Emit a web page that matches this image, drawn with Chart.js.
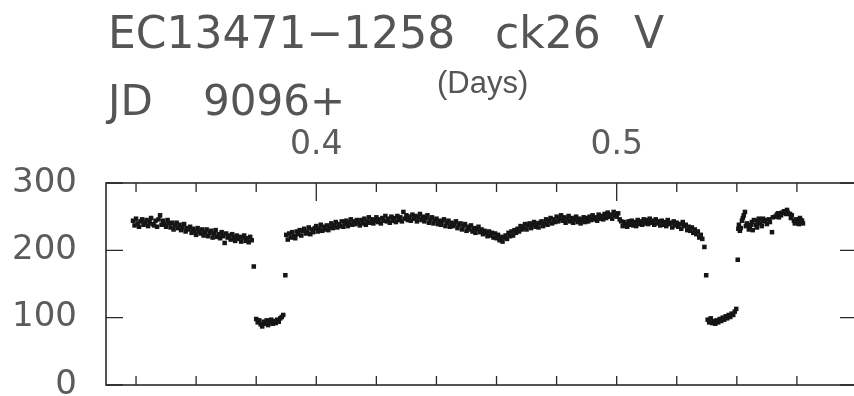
<!DOCTYPE html>
<html>
<head>
<meta charset="utf-8">
<title>EC13471-1258 ck26 V</title>
<script src="https://cdn.jsdelivr.net/npm/chart.js@4.4.1/dist/chart.umd.min.js"></script>
<style>
    body { margin: 0; background: #fff; overflow: hidden; }
    #quadro { position: relative; width: 870px; height: 396px; }
    #graficoCurva { position: absolute; left: 0; top: 0; }
    .texto { position: absolute; line-height: 1; white-space: pre; color: #555; font-family: "DejaVu Sans", sans-serif; }
</style>
</head>
<body>
<div id="quadro">
    <canvas id="graficoCurva" width="870" height="396"></canvas>
    <span class="texto" style="left:108px; top:11px; font-size:44px;">EC13471−1258</span>
    <span class="texto" style="left:495px; top:11px; font-size:44px;">ck26</span>
    <span class="texto" style="left:634px; top:11px; font-size:44px;">V</span>
    <span class="texto" style="left:108px; top:80px; font-size:42px;">JD</span>
    <span class="texto" style="left:203px; top:80px; font-size:42px;">9096+</span>
    <span class="texto" style="left:437px; top:67px; font-size:31px; font-family:'Liberation Sans', sans-serif;">(Days)</span>
</div>
<script>
// tempo (dias depois de JD 9096) e contagens, por trecho da curva
const daysA = [
    0.3390, 0.3395, 0.3400, 0.3405, 0.3410, 0.3415, 0.3420, 0.3425, 0.3430, 0.3435,
    0.3440, 0.3445, 0.3450, 0.3455, 0.3460, 0.3465, 0.3470, 0.3475, 0.3480, 0.3485,
    0.3490, 0.3495, 0.3500, 0.3505, 0.3510, 0.3515, 0.3520, 0.3525, 0.3530, 0.3535,
    0.3540, 0.3545, 0.3550, 0.3555, 0.3560, 0.3565, 0.3570, 0.3575, 0.3580, 0.3585,
    0.3590, 0.3595, 0.3600, 0.3605, 0.3610, 0.3615, 0.3620, 0.3625, 0.3630, 0.3635,
    0.3640, 0.3645, 0.3650, 0.3655, 0.3660, 0.3665, 0.3670, 0.3675, 0.3680, 0.3685,
    0.3690, 0.3695, 0.3700, 0.3705, 0.3710, 0.3715, 0.3720, 0.3725, 0.3730, 0.3735,
    0.3740, 0.3745, 0.3750, 0.3755, 0.3760, 0.3765, 0.3770, 0.3775, 0.3780, 0.3785
];
const countsA = [
    244, 237, 247, 240, 235, 243, 246, 238, 241, 245,
    236, 242, 248, 239, 237, 244, 235, 246, 252, 238,
    244, 239, 235, 245, 240, 234, 241, 231, 237, 241,
    233, 238, 230, 234, 239, 228, 233, 231, 235, 226,
    232, 229, 223, 233, 228, 225, 231, 222, 227, 231,
    221, 226, 229, 219, 225, 230, 220, 224, 218, 227,
    221, 211, 225, 219, 222, 216, 224, 219, 214, 222,
    217, 220, 213, 219, 222, 214, 218, 212, 220, 215
];

// primeiro eclipse (entrada, fundo, saida)
const daysB = [
    0.3792,
    0.3800, 0.3805, 0.3810, 0.3815, 0.3820, 0.3825, 0.3830, 0.3835, 0.3840, 0.3845,
    0.3850, 0.3855, 0.3860, 0.3865, 0.3870, 0.3875, 0.3880, 0.3885, 0.3890,
    0.3897
];
const countsB = [
    176,
    98, 93, 96, 90, 87, 94, 91, 96, 89, 93,
    97, 91, 95, 92, 97, 94, 99, 101, 104,
    163
];

const daysC = [
    0.3900, 0.3905, 0.3910, 0.3915, 0.3920, 0.3925, 0.3930, 0.3935, 0.3940, 0.3945,
    0.3950, 0.3955, 0.3960, 0.3965, 0.3970, 0.3975, 0.3980, 0.3985, 0.3990, 0.3995,
    0.4000, 0.4005, 0.4010, 0.4015, 0.4020, 0.4025, 0.4030, 0.4035, 0.4040, 0.4045,
    0.4050, 0.4055, 0.4060, 0.4065, 0.4070, 0.4075, 0.4080, 0.4085, 0.4090, 0.4095,
    0.4100, 0.4105, 0.4110, 0.4115, 0.4120, 0.4125, 0.4130, 0.4135, 0.4140, 0.4145,
    0.4150, 0.4155, 0.4160, 0.4165, 0.4170, 0.4175, 0.4180, 0.4185, 0.4190, 0.4195,
    0.4200, 0.4205, 0.4210, 0.4215, 0.4220, 0.4225, 0.4230, 0.4235, 0.4240, 0.4245,
    0.4250, 0.4255, 0.4260, 0.4265, 0.4270, 0.4275, 0.4280, 0.4285, 0.4290, 0.4295,
    0.4300, 0.4305, 0.4310, 0.4315, 0.4320, 0.4325, 0.4330, 0.4335, 0.4340, 0.4345,
    0.4350, 0.4355, 0.4360, 0.4365, 0.4370, 0.4375, 0.4380, 0.4385, 0.4390, 0.4395,
    0.4400, 0.4405, 0.4410, 0.4415, 0.4420, 0.4425, 0.4430, 0.4435, 0.4440, 0.4445,
    0.4450, 0.4455, 0.4460, 0.4465, 0.4470, 0.4475, 0.4480, 0.4485, 0.4490, 0.4495,
    0.4500, 0.4505, 0.4510, 0.4515, 0.4520, 0.4525, 0.4530, 0.4535, 0.4540, 0.4545,
    0.4550, 0.4555, 0.4560, 0.4565, 0.4570, 0.4575, 0.4580, 0.4585, 0.4590, 0.4595,
    0.4600, 0.4605, 0.4610, 0.4615, 0.4620, 0.4625, 0.4630, 0.4635, 0.4640, 0.4645,
    0.4650, 0.4655, 0.4660, 0.4665, 0.4670, 0.4675, 0.4680, 0.4685, 0.4690, 0.4695,
    0.4700, 0.4705, 0.4710, 0.4715, 0.4720, 0.4725, 0.4730, 0.4735, 0.4740, 0.4745,
    0.4750, 0.4755, 0.4760, 0.4765, 0.4770, 0.4775, 0.4780, 0.4785, 0.4790, 0.4795,
    0.4800, 0.4805, 0.4810, 0.4815, 0.4820, 0.4825, 0.4830, 0.4835, 0.4840, 0.4845,
    0.4850, 0.4855, 0.4860, 0.4865, 0.4870, 0.4875, 0.4880, 0.4885, 0.4890, 0.4895,
    0.4900, 0.4905, 0.4910, 0.4915, 0.4920, 0.4925, 0.4930, 0.4935, 0.4940, 0.4945,
    0.4950, 0.4955, 0.4960, 0.4965, 0.4970, 0.4975, 0.4980, 0.4985, 0.4990, 0.4995,
    0.5000, 0.5005, 0.5010, 0.5015, 0.5020, 0.5025, 0.5030, 0.5035, 0.5040, 0.5045,
    0.5050, 0.5055, 0.5060, 0.5065, 0.5070, 0.5075, 0.5080, 0.5085, 0.5090, 0.5095,
    0.5100, 0.5105, 0.5110, 0.5115, 0.5120, 0.5125, 0.5130, 0.5135, 0.5140, 0.5145,
    0.5150, 0.5155, 0.5160, 0.5165, 0.5170, 0.5175, 0.5180, 0.5185, 0.5190, 0.5195,
    0.5200, 0.5205, 0.5210, 0.5215, 0.5220, 0.5225, 0.5230, 0.5235, 0.5240, 0.5245,
    0.5250, 0.5255, 0.5260, 0.5265, 0.5270, 0.5275, 0.5280, 0.5285
];
const countsC = [
    223, 216, 225, 219, 227, 221, 218, 228, 224, 230,
    222, 229, 232, 225, 228, 234, 224, 231, 227, 233,
    236, 228, 232, 238, 229, 235, 231, 237, 230, 234,
    240, 233, 237, 242, 234, 239, 236, 243, 235, 240,
    244, 236, 241, 246, 238, 243, 239, 245, 241, 237,
    245, 240, 247, 238, 243, 249, 241, 246, 240, 244,
    249, 242, 246, 240, 248, 244, 251, 243, 247, 241,
    250, 244, 248, 242, 251, 245, 249, 243, 257, 247,
    252, 245, 250, 244, 253, 247, 251, 243, 249, 254,
    245, 250, 243, 248, 252, 241, 246, 249, 240, 245,
    247, 239, 244, 238, 243, 246, 236, 241, 244, 235,
    241, 236, 239, 243, 233, 238, 240, 231, 236, 239,
    229, 235, 231, 237, 228, 233, 226, 232, 235, 227,
    231, 224, 229, 226, 221, 228, 222, 226, 219, 225,
    218, 223, 215, 220, 213, 219, 222, 217, 226, 221,
    228, 222, 230, 226, 232, 228, 236, 231, 234, 239,
    231, 237, 240, 233, 238, 242, 235, 240, 234, 241,
    243, 236, 240, 246, 238, 244, 248, 240, 246, 242,
    250, 243, 247, 252, 244, 249, 241, 247, 251, 243,
    248, 241, 246, 250, 242, 247, 240, 245, 249, 242,
    248, 243, 250, 245, 252, 246, 249, 244, 253, 247,
    251, 246, 254, 248, 256, 250, 253, 247, 257, 252,
    250, 255, 246, 243, 236, 242, 239, 235, 243, 238,
    244, 237, 242, 236, 245, 239, 243, 238, 246, 240,
    245, 239, 247, 241, 244, 238, 246, 240, 243, 237,
    244, 238, 242, 236, 245, 239, 241, 234, 243, 237,
    241, 235, 239, 232, 242, 236, 238, 230, 235, 229,
    234, 226, 231, 224, 228, 219, 223, 217
];

// segundo eclipse
const daysD = [
    0.5292, 0.5298,
    0.5303, 0.5308, 0.5313, 0.5318, 0.5323, 0.5328, 0.5333, 0.5338, 0.5343, 0.5348,
    0.5353, 0.5358, 0.5363, 0.5368, 0.5373, 0.5378, 0.5383, 0.5388, 0.5393, 0.5398,
    0.5403
];
const countsD = [
    205, 163,
    97, 93, 99, 92, 95, 91, 96, 93, 98, 95,
    100, 97, 102, 99, 104, 101, 106, 104, 109, 113,
    186
];

const daysE = [
    0.5405, 0.5407, 0.5410, 0.5413, 0.5417, 0.5420, 0.5423, 0.5427, 0.5430, 0.5433,
    0.5440, 0.5443, 0.5447, 0.5450, 0.5453, 0.5457, 0.5463, 0.5467, 0.5470, 0.5473,
    0.5477, 0.5483, 0.5487, 0.5490, 0.5493, 0.5500, 0.5507, 0.5510, 0.5517, 0.5520,
    0.5527, 0.5533, 0.5537, 0.5540, 0.5547, 0.5550, 0.5557, 0.5563, 0.5567, 0.5570,
    0.5577, 0.5580, 0.5583, 0.5590, 0.5593, 0.5597, 0.5600, 0.5607, 0.5610, 0.5613,
    0.5617, 0.5620
];
const countsE = [
    232, 238, 229, 233, 244, 248, 252, 257, 236, 240,
    231, 235, 238, 242, 230, 245, 238, 234, 244, 247,
    240, 236, 247, 243, 245, 239, 246, 242, 227, 249,
    250, 253, 255, 249, 252, 256, 258, 254, 260, 256,
    254, 248, 252, 244, 240, 246, 242, 239, 248, 245,
    244, 240
];

// marcas dos eixos
const xTickLabels = [0.4, 0.5];
const xMinorTicks = [0.34, 0.36, 0.38, 0.42, 0.44, 0.46, 0.48, 0.52, 0.54, 0.56];
const yTicks = [0, 100, 200, 300];

document.addEventListener("DOMContentLoaded", function () {
    const ctx = document.getElementById("graficoCurva").getContext("2d");

    // moldura e tracinhos para dentro
    const molduraPlugin = {
        id: "moldura",
        afterDraw(chart) {
            const c = chart.ctx;
            const area = chart.chartArea;
            const sx = chart.scales.x;
            const sy = chart.scales.y;
            c.save();
            c.strokeStyle = "#2a2a2a";
            c.lineWidth = 1.6;
            c.strokeRect(area.left, area.top, area.right - area.left, area.bottom - area.top);

            c.lineWidth = 1.3;
            c.beginPath();
            xMinorTicks.concat(xTickLabels).forEach(function (v) {
                const px = sx.getPixelForValue(v);
                const len = xTickLabels.includes(v) ? 18 : 9;
                c.moveTo(px, area.top);
                c.lineTo(px, area.top + len);
                c.moveTo(px, area.bottom);
                c.lineTo(px, area.bottom - 9);
            });
            yTicks.forEach(function (v) {
                const py = sy.getPixelForValue(v);
                c.moveTo(area.left, py);
                c.lineTo(area.left + 17, py);
                c.moveTo(area.right, py);
                c.lineTo(area.right - 17, py);
            });
            c.stroke();
            c.restore();
        }
    };

    // junta os trechos em pontos {x, y}
    const days = daysA.concat(daysB, daysC, daysD, daysE);
    const counts = countsA.concat(countsB, countsC, countsD, countsE);
    let pontos = days.map(function (d, i) {
        return { x: d, y: counts[i] };
    });

    let grafico = new Chart(ctx, {
        type: "scatter",
        data: {
            datasets: [{
                data: pontos,
                pointStyle: "rect",
                pointRadius: 3.2,
                pointHoverRadius: 3.2,
                backgroundColor: "#151515",
                borderWidth: 0
            }]
        },
        options: {
            responsive: false,
            animation: false,
            devicePixelRatio: 1,
            layout: { padding: { left: 0, top: 0, right: 13, bottom: 11 } },
            plugins: {
                legend: { display: false },
                tooltip: { enabled: false }
            },
            scales: {
                x: {
                    type: "linear",
                    position: "top",
                    min: 0.33,
                    max: 0.58,
                    grid: { display: false, drawTicks: false },
                    border: { display: false },
                    afterBuildTicks: function (scale) {
                        scale.ticks = xTickLabels.map(function (v) { return { value: v }; });
                    },
                    afterFit: function (scale) {
                        scale.height = 183;
                        scale.paddingLeft = 0;
                        scale.paddingRight = 0;
                    },
                    ticks: {
                        autoSkip: false,
                        maxRotation: 0,
                        padding: 18,
                        color: "#5c5c5c",
                        font: { family: "DejaVu Sans", size: 33 },
                        callback: function (v) { return v.toFixed(1); }
                    }
                },
                y: {
                    type: "linear",
                    min: 0,
                    max: 300,
                    grid: { display: false, drawTicks: false },
                    border: { display: false },
                    afterBuildTicks: function (scale) {
                        scale.ticks = yTicks.map(function (v) { return { value: v }; });
                    },
                    afterFit: function (scale) {
                        scale.width = 106;
                        scale.paddingTop = 0;
                        scale.paddingBottom = 0;
                    },
                    ticks: {
                        autoSkip: false,
                        padding: 29,
                        color: "#5c5c5c",
                        font: { family: "DejaVu Sans", size: 34 }
                    }
                }
            }
        },
        plugins: [molduraPlugin]
    });
});
</script>
</body>
</html>
